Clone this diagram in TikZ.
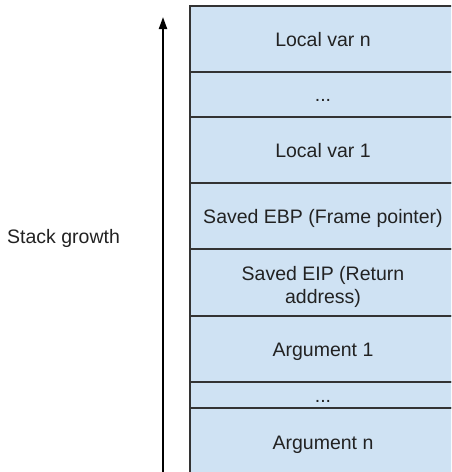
\documentclass[tikz,border=0pt]{standalone}
\usepackage{fontspec}
\setmainfont{Liberation Sans}
\usepackage{xcolor}
\usetikzlibrary{positioning, arrows.meta}
\definecolor{slotfill}{HTML}{cfe2f3}
\definecolor{slotline}{HTML}{333333}
\definecolor{slottext}{HTML}{222222}

\begin{document}
\begin{tikzpicture}[x=1pt, y=-1pt,
  font=\fontsize{19.5}{23}\selectfont, text=slottext,
  slot/.style={draw=slotline, fill=slotfill, line width=1.2pt, outer sep=0pt,
    minimum width=266pt, inner sep=0pt, align=center, text height=14pt, text depth=0pt}]
\useasboundingbox (0,0) rectangle (451,472);
\clip (0,0) rectangle (451,472);

\node[slot, minimum height=66pt, anchor=north west](lvn) at (190,6) {Local var n};
\node[slot, minimum height=45pt, below=0pt of lvn](dotsa) {...};
\node[slot, minimum height=66pt, below=0pt of dotsa](lvone) {Local var 1};
\node[slot, minimum height=66pt, below=0pt of lvone](ebp) {Saved EBP (Frame pointer)};
\node[slot, minimum height=67pt, text height=41pt, below=0pt of ebp](eip) {Saved EIP (Return\\address)};
\node[slot, minimum height=66pt, below=0pt of eip](argone) {Argument 1};
\node[slot, minimum height=26pt, below=0pt of argone](dotsb) {...};
\node[slot, minimum height=68pt, below=0pt of dotsb](argn) {Argument n};

\node[inner sep=0pt, anchor=base west](growth) at (7,243) {Stack growth};

\coordinate (base) at (163,476);
\coordinate (tip) at (163,17);
\draw[-{Triangle[length=12pt,width=8pt]}, line width=2pt, black](base)--(tip);

\end{tikzpicture}
\end{document}
